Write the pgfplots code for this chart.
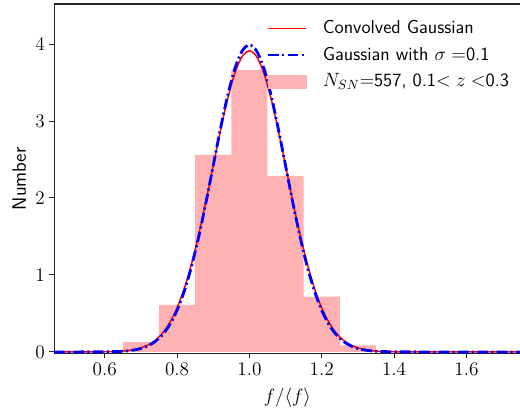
\documentclass[border=0pt]{standalone}
\usepackage{pgfplots}
\pgfplotsset{compat=1.18}
\definecolor{histfill}{RGB}{255,178,178}

\begin{document}
\begin{tikzpicture}
\begin{axis}[
  scale only axis, width=349.5pt, height=261.75pt,
  xmin=0.46, xmax=1.75, ymin=-0.02, ymax=4.52,
  xtick={0.6,0.8,1.0,1.2,1.4,1.6},
  ytick={0,1,2,3,4},
  xticklabel style={/pgf/number format/.cd,fixed,fixed zerofill,precision=1},
  tick align=outside, tick pos=left, major tick length=3.5pt,
  tick label style={font=\fontsize{14}{16}\selectfont},
  label style={font=\sffamily\fontsize{14.5}{17}\selectfont},
  xlabel={$f/\langle f\rangle$}, ylabel={Number},
  xlabel style={yshift=-3pt},
  axis line style={black!85, line width=0.8pt},
  every tick/.style={black!85, line width=0.7pt},
  legend style={draw=none, fill=none, at={(0.99,0.968)}, anchor=north east,
    font=\sffamily\fontsize{14}{16.5}\selectfont, row sep=4.5pt},
  legend cell align=left,
]
\coordinate (sw) at (rel axis cs:0,0);
\coordinate (ne) at (rel axis cs:1,1);
\addlegendimage{legend image code/.code={\path[draw=none,fill=none] (0cm,0cm) rectangle (1.37cm,0cm);
  \draw[red, line width=1.1pt] (0cm,0cm) -- (1cm,0cm);}}
\addlegendentry{Convolved Gaussian}
\addlegendimage{legend image code/.code={\path[draw=none,fill=none] (0cm,0cm) rectangle (1.37cm,0cm);
  \draw[blue, line width=2.1pt,
  dash pattern=on 8pt off 2.5pt on 1.5pt off 2.5pt] (0cm,0cm) -- (1cm,0cm);}}
\addlegendentry{Gaussian with $\sigma=$0.1}
\addlegendimage{legend image code/.code={\path[draw=none,fill=none] (0cm,0cm) rectangle (1.37cm,0cm);
  \fill[histfill] (0cm,-0.17cm) rectangle (1cm,0.17cm);}}
\addlegendentry{$N_{SN}$=557, 0.1$<z<$0.3}
% histogram, density normalised, bin width 0.1
\addplot[ybar interval, fill=histfill, draw=none, forget plot] coordinates {
  (0.65,0.126) (0.75,0.610) (0.85,2.560) (0.95,3.665) (1.05,2.285)
  (1.15,0.718) (1.25,0.085) (1.35,0.085)};
% convolved gaussian
\addplot[red, line width=1.1pt, smooth, forget plot] coordinates {
  (0.46,0.0000) (0.55,0.0002) (0.60,0.0018) (0.64,0.0077) (0.66,0.0151)
  (0.68,0.0285) (0.70,0.0517) (0.72,0.0903) (0.74,0.1519) (0.76,0.2455)
  (0.78,0.382) (0.80,0.572) (0.82,0.824) (0.84,1.143) (0.86,1.525)
  (0.88,1.958) (0.90,2.419) (0.92,2.875) (0.94,3.290) (0.96,3.622)
  (0.98,3.837) (1.00,3.911) (1.02,3.837) (1.04,3.622) (1.06,3.290)
  (1.08,2.875) (1.10,2.419) (1.12,1.958) (1.14,1.525) (1.16,1.143)
  (1.18,0.824) (1.20,0.572) (1.22,0.382) (1.24,0.2455) (1.26,0.1519)
  (1.28,0.0903) (1.30,0.0517) (1.32,0.0285) (1.34,0.0151) (1.36,0.0077)
  (1.40,0.0018) (1.45,0.0002) (1.55,0.0000) (1.75,0.0000)};
% gaussian sigma = 0.1
\addplot[blue, line width=2.1pt, smooth, forget plot,
  dash pattern=on 8pt off 2.5pt on 1.5pt off 2.5pt] coordinates {
  (0.46,0.0000) (0.55,0.0001) (0.60,0.0013) (0.64,0.0061) (0.66,0.0123)
  (0.68,0.0238) (0.70,0.0443) (0.72,0.079) (0.74,0.136) (0.76,0.224)
  (0.78,0.355) (0.80,0.540) (0.82,0.789) (0.84,1.109) (0.86,1.497)
  (0.88,1.942) (0.90,2.420) (0.92,2.897) (0.94,3.332) (0.96,3.683)
  (0.98,3.910) (1.00,3.989) (1.02,3.910) (1.04,3.683) (1.06,3.332)
  (1.08,2.897) (1.10,2.420) (1.12,1.942) (1.14,1.497) (1.16,1.109)
  (1.18,0.789) (1.20,0.540) (1.22,0.355) (1.24,0.224) (1.26,0.136)
  (1.28,0.079) (1.30,0.0443) (1.32,0.0238) (1.34,0.0123) (1.36,0.0061)
  (1.40,0.0013) (1.45,0.0001) (1.55,0.0000) (1.75,0.0000)};
\end{axis}
\pgfresetboundingbox
\useasboundingbox ([xshift=-40.5pt,yshift=-42pt]sw) rectangle ([xshift=-0.5pt,yshift=3pt]ne);
\end{tikzpicture}
\end{document}
